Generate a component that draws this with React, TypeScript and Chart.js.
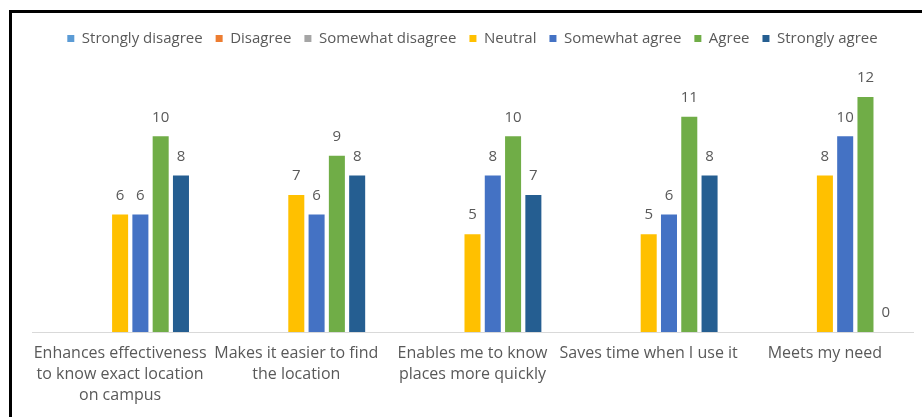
import React, { useEffect, useRef } from "react";
import { Chart, registerables } from "chart.js";

Chart.register(...registerables);

const categories: string[][] = [
  ["Enhances effectiveness", "to know exact location", "on campus"],
  ["Makes it easier to find", "the location"],
  ["Enables me to know", "places more quickly"],
  ["Saves time when I use it"],
  ["Meets my need"],
];

const seriesNames = [
  "Strongly disagree",
  "Disagree",
  "Somewhat disagree",
  "Neutral",
  "Somewhat agree",
  "Agree",
  "Strongly agree",
];

const stronglyDisagree = [0, 0, 0, 0, 0];
const disagree = [0, 0, 0, 0, 0];
const somewhatDisagree = [0, 0, 0, 0, 0];
const neutral = [6, 7, 5, 5, 8];
const somewhatAgree = [6, 6, 8, 6, 10];
const agree = [10, 9, 10, 11, 12];
const stronglyAgree = [8, 8, 7, 8, 0];

const seriesValues = [
  stronglyDisagree,
  disagree,
  somewhatDisagree,
  neutral,
  somewhatAgree,
  agree,
  stronglyAgree,
];

const seriesColors = [
  "#5B9BD5",
  "#ED7D31",
  "#A5A5A5",
  "#FFC000",
  "#4472C4",
  "#70AD47",
  "#255E91",
];

// which series carry data labels
const labelledSeries = [false, false, false, true, true, true, true];

const FONT = "'Open Sans', 'Noto Sans', sans-serif";

const valueLabels = {
  id: "valueLabels",
  afterDatasetsDraw(chart: any) {
    const ctx = chart.ctx;
    ctx.save();
    ctx.font = `15px ${FONT}`;
    ctx.fillStyle = "#595959";
    ctx.textAlign = "center";
    ctx.textBaseline = "middle";
    chart.data.datasets.forEach((ds: any, di: number) => {
      if (!labelledSeries[di]) return;
      const meta = chart.getDatasetMeta(di);
      meta.data.forEach((bar: any, i: number) => {
        const v = ds.data[i];
        ctx.fillText(String(v), bar.x, bar.y - 19);
      });
    });
    ctx.restore();
  },
};

export default function App() {
  const ref = useRef<HTMLCanvasElement>(null);

  useEffect(() => {
    if (!ref.current) return;
    const chart = new Chart(ref.current, {
      type: "bar",
      data: {
        labels: categories,
        datasets: seriesNames.map((name, i) => ({
          label: name,
          data: seriesValues[i],
          backgroundColor: seriesColors[i],
          borderWidth: 0,
          categoryPercentage: 0.806,
          barPercentage: 0.79,
        })),
      },
      options: {
        animation: false,
        responsive: false,
        maintainAspectRatio: false,
        layout: { padding: { left: 32, right: 9, top: 18, bottom: 0 } },
        plugins: {
          tooltip: { enabled: false },
          legend: {
            position: "top",
            labels: {
              boxWidth: 7,
              boxHeight: 7,
              padding: 13,
              color: "#595959",
              font: { family: FONT, size: 15 },
            },
          },
        },
        scales: {
          x: {
            grid: { display: false, drawTicks: false },
            border: { display: true, color: "#D9D9D9", width: 1 },
            ticks: {
              color: "#595959",
              font: { family: FONT, size: 16, lineHeight: 1.3 },
              padding: 11,
              maxRotation: 0,
              autoSkip: false,
            },
            afterFit: (scale: any) => {
              scale.height = 85;
            },
          },
          y: {
            display: false,
            min: 0,
            max: 14.1,
          },
        },
      },
      plugins: [valueLabels],
    });
    return () => chart.destroy();
  }, []);

  return (
    <div style={{ position: "fixed", left: 0, top: 0, width: 922, height: 417, background: "#fff" }}>
      <canvas ref={ref} width={922} height={417} style={{ position: "absolute", left: 0, top: 0 }} />
      <div
        style={{
          position: "absolute",
          left: 9,
          top: 10,
          width: 1000,
          height: 1000,
          borderLeft: "3px solid #000",
          borderTop: "3px solid #000",
          pointerEvents: "none",
        }}
      />
    </div>
  );
}
